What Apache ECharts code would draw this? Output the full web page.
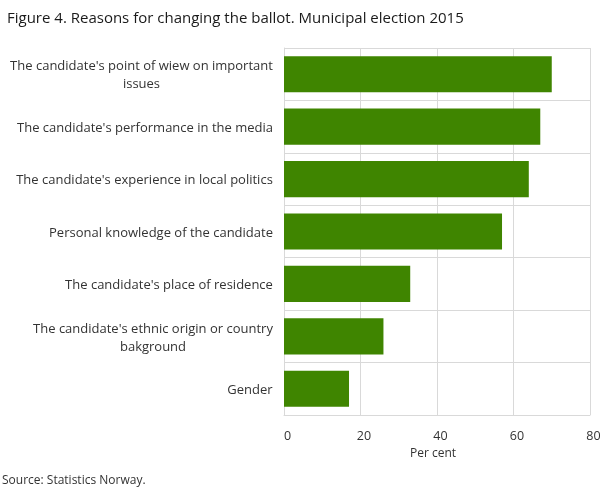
<!DOCTYPE html>
<html><head><meta charset="utf-8">
<script src="https://cdn.jsdelivr.net/npm/echarts@6/dist/echarts.min.js"></script>
<style>html,body{margin:0;padding:0;background:#fff}#c{width:609px;height:489px}</style>
</head><body><div id="c"></div>
<script>
const categories = [
  "The candidate's point of wiew on important\nissues",
  "The candidate's performance in the media",
  "The candidate's experience in local politics",
  "Personal knowledge of the candidate",
  "The candidate's place of residence",
  "The candidate's ethnic origin or country\nbakground",
  "Gender"
];
const values = [70, 67, 64, 57, 33, 26, 17];
const xTicks = [0, 20, 40, 60, 80];

const FONT = '"Open Sans", sans-serif';
const LABEL_SIZE = 13;
const ctx = document.createElement('canvas').getContext('2d');
ctx.font = LABEL_SIZE + 'px "Open Sans"';
const rich = {};
categories.forEach((c, i) => {
  const w = Math.max(...c.split('\n').map(l => ctx.measureText(l).width));
  rich['r' + i] = { width: Math.ceil(w), align: 'center', fontFamily: FONT, fontSize: LABEL_SIZE, color: '#333', lineHeight: 18 };
});

const chart = echarts.init(document.getElementById('c'), null, { renderer: 'canvas' });
chart.setOption({
  animation: false,
  title: {
    text: 'Figure 4. Reasons for changing the ballot. Municipal election 2015',
    left: 2, top: 6,
    textStyle: { fontFamily: FONT, fontSize: 15, fontWeight: 'normal', color: '#1a1a1a' }
  },
  graphic: [{
    type: 'text', left: 2, top: 475,
    style: { text: 'Source: Statistics Norway.', font: '12px "Open Sans"', fill: '#333' }
  }],
  grid: { left: 284, right: 19, top: 48, bottom: 74, containLabel: false },
  xAxis: {
    type: 'value', min: xTicks[0], max: xTicks[xTicks.length - 1], interval: 20,
    name: 'Per cent', nameLocation: 'middle', nameGap: 33,
    nameTextStyle: { fontFamily: FONT, fontSize: 12, color: '#333', padding: [0, 8, 0, 0] },
    axisLine: { show: true, lineStyle: { color: '#d9d9d9' } },
    axisTick: { show: false },
    axisLabel: { fontFamily: FONT, fontSize: 12.5, color: '#333', margin: 15, padding: [0, 0, 0, 7] },
    splitLine: { show: true, lineStyle: { color: '#d9d9d9' } }
  },
  yAxis: {
    type: 'category', data: categories, inverse: true,
    axisLine: { show: true, lineStyle: { color: '#d9d9d9' } },
    axisTick: { show: false },
    splitLine: { show: true, lineStyle: { color: '#d9d9d9' } },
    axisLabel: {
      margin: 11, fontFamily: FONT, fontSize: LABEL_SIZE, color: '#333', lineHeight: 18,
      padding: [3, 0, 0, 0],
      formatter: (v, i) => v.split('\n').map(l => '{r' + i + '|' + l + '}').join('\n'),
      rich: rich
    }
  },
  series: [{
    type: 'bar', data: values, barCategoryGap: '31%',
    itemStyle: { color: '#3f8500' }
  }]
});
</script></body></html>
